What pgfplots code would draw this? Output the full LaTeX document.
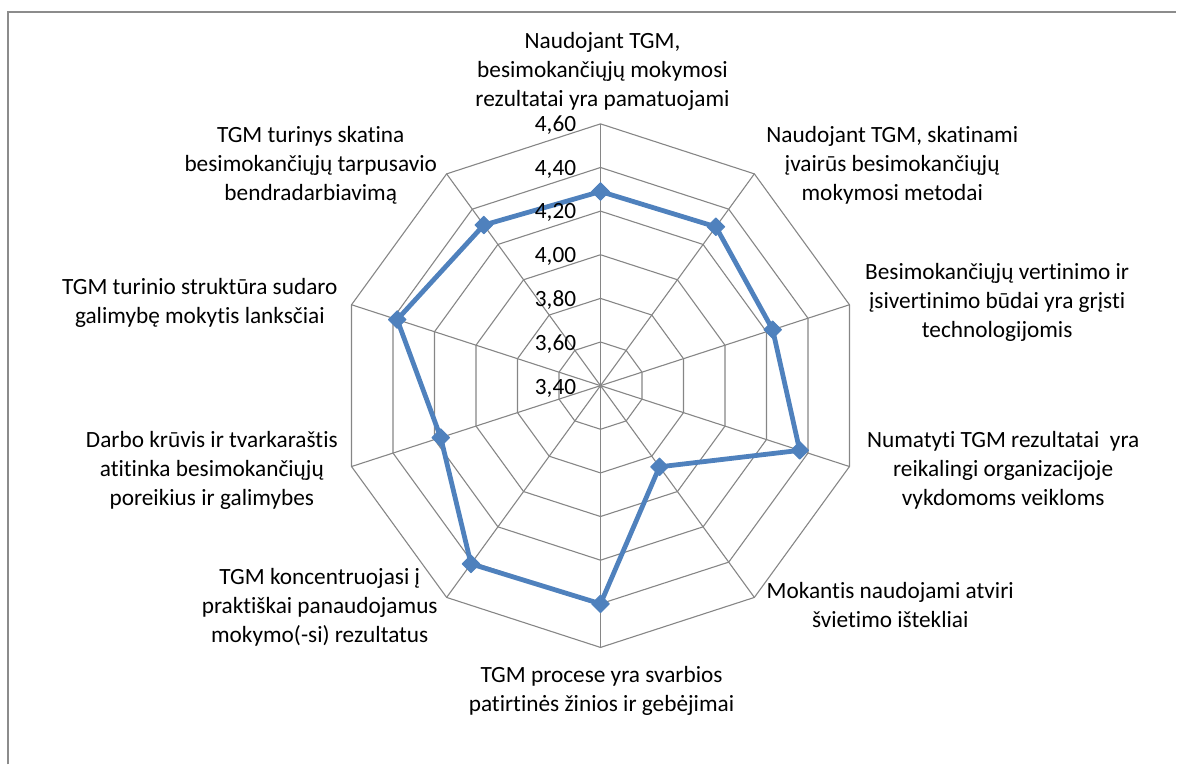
\documentclass[border=0pt]{standalone}
\usepackage{fontspec}
\setmainfont{Carlito}[Ligatures=NoCommon]
\usepackage{pgfplots}
\pgfplotsset{compat=1.18}
\usepackage{pgfplotstable}
\definecolor{serblue}{HTML}{4F81BD}
\definecolor{gridgray}{HTML}{868686}
\definecolor{framegray}{HTML}{8C8C8C}

% angle (deg), mean value
\pgfplotstableread{
ang val
90 4.29
54 4.30
18 4.23
-18 4.36
-54 3.86
-90 4.40
-126 4.41
-162 4.17
162 4.38
126 4.31
90 4.29
}\radardata

% pixel position of the reference -> axis coordinates
\newcommand\PX[2]{(axis cs:{(#1-601)*0.00458015},{(386-#2)*0.00458015})}

\begin{document}
\begin{tikzpicture}
\fontsize{11.65}{14.5}\selectfont
\begin{axis}[
  hide axis,
  x=109.1667pt, y=109.1667pt,
  xmin=-2.7527, xmax=2.6382, ymin=-1.7359, ymax=1.7679,
  clip=false,
]
\path (axis cs:-2.7527,-1.7359) rectangle (axis cs:2.6382,1.7679);
% frame
\draw[framegray, line width=1pt] (axis cs:-2.7183,-1.7359) -- (axis cs:-2.7183,1.7130) -- (axis cs:2.6382,1.7130);
% rings
\pgfplotsinvokeforeach{0.2,0.4,0.6,0.8,1.0,1.2}{
  \draw[gridgray, line width=0.55pt] (axis cs:0,#1)
    \foreach \a in {54,18,-18,-54,-90,-126,-162,162,126} { -- (axis cs:{#1*cos(\a)},{#1*sin(\a)}) } -- cycle;
}
% spokes
\pgfplotsinvokeforeach{90,54,18,-18,-54,-90,-126,-162,162,126}{
  \draw[gridgray, line width=0.55pt] (axis cs:0,0) -- (axis cs:{1.2*cos(#1)},{1.2*sin(#1)});
}
% series
\addplot[serblue, line width=2.4pt, line join=round,
  mark=square*, mark size=3.1pt,
  mark options={rotate=45, line width=0.5pt, fill=serblue, draw=serblue}]
  table[x expr={(\thisrow{val}-3.4)*cos(\thisrow{ang})},
        y expr={(\thisrow{val}-3.4)*sin(\thisrow{ang})}] {\radardata};
% radial tick labels
\node[anchor=base east, inner sep=0pt] at \PX{577}{132} {4,60};
\node[anchor=base east, inner sep=0pt] at \PX{577}{176} {4,40};
\node[anchor=base east, inner sep=0pt] at \PX{577}{219} {4,20};
\node[anchor=base east, inner sep=0pt] at \PX{577}{263} {4,00};
\node[anchor=base east, inner sep=0pt] at \PX{577}{307} {3,80};
\node[anchor=base east, inner sep=0pt] at \PX{577}{351} {3,60};
\node[anchor=base east, inner sep=0pt] at \PX{577}{395} {3,40};
% category labels (one node per line)
\node[anchor=base, inner sep=0pt] at \PX{603}{49} {Naudojant TGM,};
\node[anchor=base, inner sep=0pt] at \PX{603}{78} {besimokančiųjų mokymosi};
\node[anchor=base, inner sep=0pt] at \PX{603}{107} {rezultatai yra pamatuojami};

\node[anchor=base, inner sep=0pt] at \PX{893}{143} {Naudojant TGM, skatinami};
\node[anchor=base, inner sep=0pt] at \PX{893}{172} {įvairūs besimokančiųjų};
\node[anchor=base, inner sep=0pt] at \PX{893}{201} {mokymosi metodai};

\node[anchor=base, inner sep=0pt] at \PX{998}{280} {Besimokančiųjų vertinimo ir};
\node[anchor=base, inner sep=0pt] at \PX{998}{309} {įsivertinimo būdai yra grįsti};
\node[anchor=base, inner sep=0pt] at \PX{998}{338} {technologijomis};

\node[anchor=base, inner sep=0pt] at \PX{1004}{448} {Numatyti TGM rezultatai\ \ yra};
\node[anchor=base, inner sep=0pt] at \PX{1004}{477} {reikalingi organizacijoje};
\node[anchor=base, inner sep=0pt] at \PX{1004}{506} {vykdomoms veikloms};

\node[anchor=base, inner sep=0pt] at \PX{891}{599} {Mokantis naudojami atviri};
\node[anchor=base, inner sep=0pt] at \PX{891}{628} {švietimo ištekliai};

\node[anchor=base, inner sep=0pt] at \PX{602}{683} {TGM procese yra svarbios};
\node[anchor=base, inner sep=0pt] at \PX{602}{712} {patirtinės žinios ir gebėjimai};

\node[anchor=base, inner sep=0pt] at \PX{320}{585} {TGM koncentruojasi į};
\node[anchor=base, inner sep=0pt] at \PX{320}{614} {praktiškai panaudojamus};
\node[anchor=base, inner sep=0pt] at \PX{320}{643} {mokymo(-si) rezultatus};

\node[anchor=base, inner sep=0pt] at \PX{212}{448} {Darbo krūvis ir tvarkaraštis};
\node[anchor=base, inner sep=0pt] at \PX{212}{477} {atitinka besimokančiųjų};
\node[anchor=base, inner sep=0pt] at \PX{212}{506} {poreikius ir galimybes};

\node[anchor=base, inner sep=0pt] at \PX{200}{295} {TGM turinio struktūra sudaro};
\node[anchor=base, inner sep=0pt] at \PX{200}{324} {galimybę mokytis lanksčiai};

\node[anchor=base, inner sep=0pt] at \PX{311}{143} {TGM turinys skatina};
\node[anchor=base, inner sep=0pt] at \PX{311}{172} {besimokančiųjų tarpusavio};
\node[anchor=base, inner sep=0pt] at \PX{311}{201} {bendradarbiavimą};
\end{axis}
\end{tikzpicture}
\end{document}
